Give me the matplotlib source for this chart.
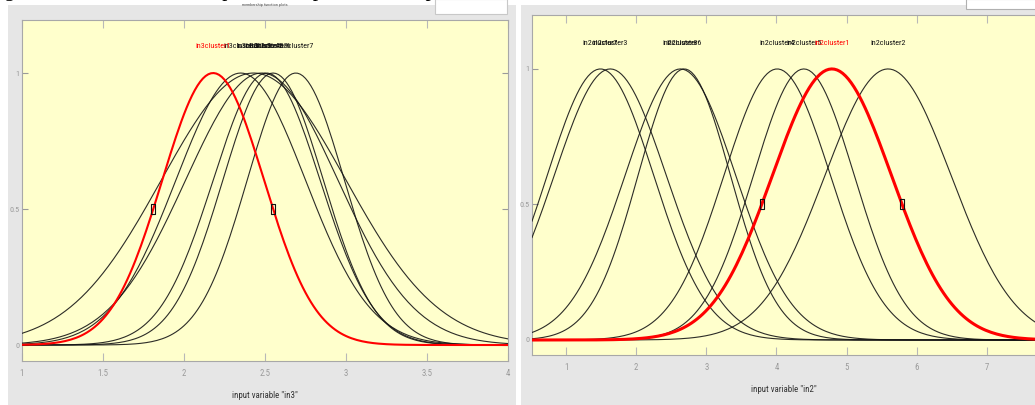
import numpy as np
import matplotlib
matplotlib.use("Agg")
import matplotlib.pyplot as plt
from matplotlib.patches import Rectangle
from matplotlib.path import Path
from matplotlib import font_manager

W, H = 1035, 405

# ---------------- data ----------------
in3_names = ["in3cluster1", "in3cluster2", "in3cluster3", "in3cluster4",
             "in3cluster5", "in3cluster6", "in3cluster7"]
in3_centers = [2.18, 2.35, 2.43, 2.48, 2.51, 2.55, 2.69]
in3_sigmas = [0.314, 0.40, 0.57, 0.47, 0.33, 0.31, 0.30]
in3_range = [1.0, 4.0]
in3_xticks = [1, 1.5, 2, 2.5, 3, 3.5, 4]
in3_xticklabels = ["1", "1.5", "2", "2.5", "3", "3.5", "4"]
in3_selected = 0

in2_names = ["in2cluster1", "in2cluster2", "in2cluster3", "in2cluster4",
             "in2cluster5", "in2cluster6", "in2cluster7", "in2cluster8"]
in2_centers = [4.79, 5.59, 1.63, 4.01, 4.39, 2.685, 1.49, 2.63]
in2_sigmas = [0.85, 0.90, 0.80, 0.76, 0.72, 0.66, 0.76, 0.79]
in2_range = [0.514, 7.7]
in2_xticks = [1, 2, 3, 4, 5, 6, 7]
in2_xticklabels = ["1", "2", "3", "4", "5", "6", "7"]
in2_selected = 0

yticks = [0, 0.5, 1]
yticklabels = ["0", "0.5", "1"]

caption = "Fig. 5 shows the membership function plots with respect to cluster in3 , we have seven clusters."
window_title = "membership function plots"
# ---------------------------------------------------------------

installed = {f.name for f in font_manager.fontManager.ttflist}
NARROW = [f for f in ["Liberation Sans Narrow", "Roboto Condensed",
                      "Open Sans Condensed", "Liberation Sans", "DejaVu Sans"]
          if f in installed] or ["DejaVu Sans"]
YELLOW = "#ffffcc"
GRAY = "#e6e6e6"

fig = plt.figure(figsize=(W / 100, H / 100), dpi=100)
fig.patch.set_facecolor("white")


def fx(px):
    return px / W


def fy(py):
    return 1 - py / H


def frect(x0, y0, x1, y1, **kw):
    fig.patches.append(Rectangle((fx(x0), fy(y1)), fx(x1) - fx(x0), fy(y0) - fy(y1),
                                 transform=fig.transFigure, figure=fig, **kw))


# panel frames (drawn beneath the axes)
frect(8, 5, 516, 405, facecolor=GRAY, edgecolor="none", zorder=-2)
frect(521, 5, 1035, 405, facecolor=GRAY, edgecolor="none", zorder=-2)
frect(435, -1, 507, 14, facecolor="white", edgecolor="#c8c8c8", lw=0.8, zorder=-1)
frect(966, -1, 1036, 9, facecolor="white", edgecolor="#b0b0b0", lw=0.8, zorder=-1)

fig.text(fx(-13), fy(-4), caption, family=["Liberation Serif", "DejaVu Serif"],
         fontsize=15, va="baseline", ha="left", color="black", zorder=-1)
fig.text(fx(265), fy(5), window_title, fontsize=3.2, ha="center", va="center",
         color="#555555", family=NARROW, zorder=-1)

box = Path([(-0.5, -1), (0.5, -1), (0.5, 1), (-0.5, 1), (-0.5, -1)],
           [Path.MOVETO, Path.LINETO, Path.LINETO, Path.LINETO, Path.CLOSEPOLY])


def gauss(x, c, s):
    return np.exp(-((x - c) ** 2) / (2 * s ** 2))


def panel(rect_px, xlim, ylim, names, centers, sigmas, sel, xticks, xtl,
          xlabel, red_lw, right_spine, label_y):
    x0, y0, x1, y1 = rect_px
    ax = fig.add_axes([fx(x0), fy(y1), fx(x1) - fx(x0), fy(y0) - fy(y1)])
    ax.set_facecolor(YELLOW)
    ax.set_xlim(*xlim)
    ax.set_ylim(*ylim)
    xs = np.linspace(xlim[0], xlim[1], 181)
    for i, (n, c, s) in enumerate(zip(names, centers, sigmas)):
        if i == sel:
            continue
        ax.plot(xs, gauss(xs, c, s), color="#151515", lw=0.8, alpha=0.9,
                solid_joinstyle="round", zorder=3)
    c, s = centers[sel], sigmas[sel]
    ax.plot(xs, gauss(xs, c, s), color="#ff0000", lw=red_lw, zorder=4)
    hw = np.sqrt(2 * np.log(2)) * s
    ax.plot([c - hw, c + hw], [0.5, 0.5], linestyle="none", marker=box,
            markersize=6.5, mfc="none", mec="#111111", mew=0.8, zorder=5)
    for i, (n, c2) in enumerate(zip(names, centers)):
        ax.text(c2, label_y, n, ha="center", va="center", fontsize=5.8,
                family=NARROW, color=("#ff0000" if i == sel else "#111111"),
                zorder=6 if i == sel else 5)
    ax.set_xticks(xticks)
    ax.set_xticklabels(xtl)
    ax.set_yticks(yticks)
    ax.set_yticklabels(yticklabels)
    ax.tick_params(axis="x", direction="in", length=5.5, width=0.8,
                   color="#b8b8b8", top=True, bottom=True, labelsize=6.3,
                   labelcolor="#9a9a9a", pad=6)
    ax.tick_params(axis="y", direction="in", length=4, width=0.8,
                   color="#9a9a9a", left=True, right=right_spine,
                   labelsize=5.8, labelcolor="#9a9a9a", pad=2)
    for lab in ax.get_xticklabels() + ax.get_yticklabels():
        lab.set_family(NARROW)
    for side, sp in ax.spines.items():
        sp.set_color("#a8a8a8")
        sp.set_linewidth(0.8)
    if not right_spine:
        ax.spines["right"].set_visible(False)
    ax.set_xlabel(xlabel, fontsize=6.4, color="#333333", family=NARROW,
                  labelpad=9)
    return ax


panel((22, 20, 508, 361), in3_range, (-0.0588, 1.195), in3_names, in3_centers,
      in3_sigmas, in3_selected, in3_xticks, in3_xticklabels,
      'input variable "in3"', 1.5, True, 1.10)

panel((532, 15, 1036, 355), in2_range, (-0.0554, 1.199), in2_names, in2_centers,
      in2_sigmas, in2_selected, in2_xticks, in2_xticklabels,
      'input variable "in2"', 2.2, False, 1.096)

fig.savefig("out.png", dpi=100)
